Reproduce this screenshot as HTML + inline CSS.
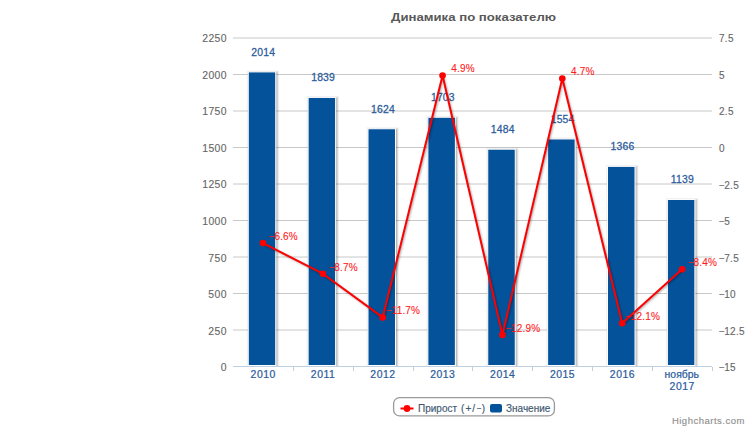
<!DOCTYPE html><html><head><meta charset="utf-8"><style>html,body{margin:0;padding:0;background:#fff;width:750px;height:430px;overflow:hidden;position:relative}</style></head><body><svg width="750" height="430" viewBox="0 0 750 430" style="position:absolute;left:0;top:0">
<defs><clipPath id="pc"><rect x="233" y="0" width="484" height="366"/></clipPath></defs>
<rect width="750" height="430" fill="#fff"/>
<text x="391" y="20.7" font-family="Liberation Sans, sans-serif" font-size="11.5" font-weight="bold" fill="#585858" textLength="165" lengthAdjust="spacingAndGlyphs">Динамика по показателю</text>
<line x1="233" x2="712" y1="38.00" y2="38.00" stroke="#c8c8c8" stroke-width="1"/>
<line x1="233" x2="712" y1="74.50" y2="74.50" stroke="#c8c8c8" stroke-width="1"/>
<line x1="233" x2="712" y1="111.00" y2="111.00" stroke="#c8c8c8" stroke-width="1"/>
<line x1="233" x2="712" y1="147.50" y2="147.50" stroke="#c8c8c8" stroke-width="1"/>
<line x1="233" x2="712" y1="184.00" y2="184.00" stroke="#c8c8c8" stroke-width="1"/>
<line x1="233" x2="712" y1="220.50" y2="220.50" stroke="#c8c8c8" stroke-width="1"/>
<line x1="233" x2="712" y1="257.00" y2="257.00" stroke="#c8c8c8" stroke-width="1"/>
<line x1="233" x2="712" y1="293.50" y2="293.50" stroke="#c8c8c8" stroke-width="1"/>
<line x1="233" x2="712" y1="330.00" y2="330.00" stroke="#c8c8c8" stroke-width="1"/>
<text transform="translate(226.80,42.10) scale(1.040,1)" font-family="Liberation Sans, sans-serif" font-size="10" font-weight="normal" fill="#666666" stroke="#666666" stroke-width="0.12" text-anchor="end" letter-spacing="0.35">2250</text>
<text transform="translate(226.80,78.68) scale(1.040,1)" font-family="Liberation Sans, sans-serif" font-size="10" font-weight="normal" fill="#666666" stroke="#666666" stroke-width="0.12" text-anchor="end" letter-spacing="0.35">2000</text>
<text transform="translate(226.80,115.26) scale(1.040,1)" font-family="Liberation Sans, sans-serif" font-size="10" font-weight="normal" fill="#666666" stroke="#666666" stroke-width="0.12" text-anchor="end" letter-spacing="0.35">1750</text>
<text transform="translate(226.80,151.84) scale(1.040,1)" font-family="Liberation Sans, sans-serif" font-size="10" font-weight="normal" fill="#666666" stroke="#666666" stroke-width="0.12" text-anchor="end" letter-spacing="0.35">1500</text>
<text transform="translate(226.80,188.42) scale(1.040,1)" font-family="Liberation Sans, sans-serif" font-size="10" font-weight="normal" fill="#666666" stroke="#666666" stroke-width="0.12" text-anchor="end" letter-spacing="0.35">1250</text>
<text transform="translate(226.80,225.00) scale(1.040,1)" font-family="Liberation Sans, sans-serif" font-size="10" font-weight="normal" fill="#666666" stroke="#666666" stroke-width="0.12" text-anchor="end" letter-spacing="0.35">1000</text>
<text transform="translate(226.80,261.58) scale(1.040,1)" font-family="Liberation Sans, sans-serif" font-size="10" font-weight="normal" fill="#666666" stroke="#666666" stroke-width="0.12" text-anchor="end" letter-spacing="0.35">750</text>
<text transform="translate(226.80,298.16) scale(1.040,1)" font-family="Liberation Sans, sans-serif" font-size="10" font-weight="normal" fill="#666666" stroke="#666666" stroke-width="0.12" text-anchor="end" letter-spacing="0.35">500</text>
<text transform="translate(226.80,334.74) scale(1.040,1)" font-family="Liberation Sans, sans-serif" font-size="10" font-weight="normal" fill="#666666" stroke="#666666" stroke-width="0.12" text-anchor="end" letter-spacing="0.35">250</text>
<text transform="translate(226.80,371.32) scale(1.040,1)" font-family="Liberation Sans, sans-serif" font-size="10" font-weight="normal" fill="#666666" stroke="#666666" stroke-width="0.12" text-anchor="end" letter-spacing="0.35">0</text>
<text transform="translate(719.00,42.20)" font-family="Liberation Sans, sans-serif" font-size="10" font-weight="normal" fill="#666666" stroke="#666666" stroke-width="0.12" text-anchor="start" letter-spacing="0.3">7.5</text>
<text transform="translate(719.00,78.78)" font-family="Liberation Sans, sans-serif" font-size="10" font-weight="normal" fill="#666666" stroke="#666666" stroke-width="0.12" text-anchor="start" letter-spacing="0.3">5</text>
<text transform="translate(719.00,115.36)" font-family="Liberation Sans, sans-serif" font-size="10" font-weight="normal" fill="#666666" stroke="#666666" stroke-width="0.12" text-anchor="start" letter-spacing="0.3">2.5</text>
<text transform="translate(719.00,151.94)" font-family="Liberation Sans, sans-serif" font-size="10" font-weight="normal" fill="#666666" stroke="#666666" stroke-width="0.12" text-anchor="start" letter-spacing="0.3">0</text>
<text transform="translate(719.00,188.52)" font-family="Liberation Sans, sans-serif" font-size="10" font-weight="normal" fill="#666666" stroke="#666666" stroke-width="0.12" text-anchor="start" letter-spacing="0.3">−<tspan dx="-0.9">2.5</tspan></text>
<text transform="translate(719.00,225.10)" font-family="Liberation Sans, sans-serif" font-size="10" font-weight="normal" fill="#666666" stroke="#666666" stroke-width="0.12" text-anchor="start" letter-spacing="0.3">−<tspan dx="-0.9">5</tspan></text>
<text transform="translate(719.00,261.68)" font-family="Liberation Sans, sans-serif" font-size="10" font-weight="normal" fill="#666666" stroke="#666666" stroke-width="0.12" text-anchor="start" letter-spacing="0.3">−<tspan dx="-0.9">7.5</tspan></text>
<text transform="translate(719.00,298.26)" font-family="Liberation Sans, sans-serif" font-size="10" font-weight="normal" fill="#666666" stroke="#666666" stroke-width="0.12" text-anchor="start" letter-spacing="0.3">−<tspan dx="-0.9">10</tspan></text>
<text transform="translate(719.00,334.84)" font-family="Liberation Sans, sans-serif" font-size="10" font-weight="normal" fill="#666666" stroke="#666666" stroke-width="0.12" text-anchor="start" letter-spacing="0.3">−<tspan dx="-0.9">12.5</tspan></text>
<text transform="translate(719.00,371.42)" font-family="Liberation Sans, sans-serif" font-size="10" font-weight="normal" fill="#666666" stroke="#666666" stroke-width="0.12" text-anchor="start" letter-spacing="0.3">−<tspan dx="-0.9">15</tspan></text>
<g clip-path="url(#pc)">
<rect x="248.25" y="71.90" width="27.5" height="293.60" fill="none" stroke="#000" stroke-opacity="0.05" stroke-width="5" transform="translate(1,1)"/>
<rect x="248.25" y="71.90" width="27.5" height="293.60" fill="none" stroke="#000" stroke-opacity="0.10" stroke-width="3" transform="translate(1,1)"/>
<rect x="248.25" y="71.90" width="27.5" height="293.60" fill="none" stroke="#000" stroke-opacity="0.15" stroke-width="1" transform="translate(1,1)"/>
<rect x="248.25" y="71.90" width="27.5" height="293.60" fill="#04529a" stroke="#fff" stroke-width="1"/>
<rect x="308.12" y="97.41" width="27.5" height="268.09" fill="none" stroke="#000" stroke-opacity="0.05" stroke-width="5" transform="translate(1,1)"/>
<rect x="308.12" y="97.41" width="27.5" height="268.09" fill="none" stroke="#000" stroke-opacity="0.10" stroke-width="3" transform="translate(1,1)"/>
<rect x="308.12" y="97.41" width="27.5" height="268.09" fill="none" stroke="#000" stroke-opacity="0.15" stroke-width="1" transform="translate(1,1)"/>
<rect x="308.12" y="97.41" width="27.5" height="268.09" fill="#04529a" stroke="#fff" stroke-width="1"/>
<rect x="368.00" y="128.76" width="27.5" height="236.74" fill="none" stroke="#000" stroke-opacity="0.05" stroke-width="5" transform="translate(1,1)"/>
<rect x="368.00" y="128.76" width="27.5" height="236.74" fill="none" stroke="#000" stroke-opacity="0.10" stroke-width="3" transform="translate(1,1)"/>
<rect x="368.00" y="128.76" width="27.5" height="236.74" fill="none" stroke="#000" stroke-opacity="0.15" stroke-width="1" transform="translate(1,1)"/>
<rect x="368.00" y="128.76" width="27.5" height="236.74" fill="#04529a" stroke="#fff" stroke-width="1"/>
<rect x="427.88" y="117.24" width="27.5" height="248.26" fill="none" stroke="#000" stroke-opacity="0.05" stroke-width="5" transform="translate(1,1)"/>
<rect x="427.88" y="117.24" width="27.5" height="248.26" fill="none" stroke="#000" stroke-opacity="0.10" stroke-width="3" transform="translate(1,1)"/>
<rect x="427.88" y="117.24" width="27.5" height="248.26" fill="none" stroke="#000" stroke-opacity="0.15" stroke-width="1" transform="translate(1,1)"/>
<rect x="427.88" y="117.24" width="27.5" height="248.26" fill="#04529a" stroke="#fff" stroke-width="1"/>
<rect x="487.75" y="149.17" width="27.5" height="216.33" fill="none" stroke="#000" stroke-opacity="0.05" stroke-width="5" transform="translate(1,1)"/>
<rect x="487.75" y="149.17" width="27.5" height="216.33" fill="none" stroke="#000" stroke-opacity="0.10" stroke-width="3" transform="translate(1,1)"/>
<rect x="487.75" y="149.17" width="27.5" height="216.33" fill="none" stroke="#000" stroke-opacity="0.15" stroke-width="1" transform="translate(1,1)"/>
<rect x="487.75" y="149.17" width="27.5" height="216.33" fill="#04529a" stroke="#fff" stroke-width="1"/>
<rect x="547.62" y="138.96" width="27.5" height="226.54" fill="none" stroke="#000" stroke-opacity="0.05" stroke-width="5" transform="translate(1,1)"/>
<rect x="547.62" y="138.96" width="27.5" height="226.54" fill="none" stroke="#000" stroke-opacity="0.10" stroke-width="3" transform="translate(1,1)"/>
<rect x="547.62" y="138.96" width="27.5" height="226.54" fill="none" stroke="#000" stroke-opacity="0.15" stroke-width="1" transform="translate(1,1)"/>
<rect x="547.62" y="138.96" width="27.5" height="226.54" fill="#04529a" stroke="#fff" stroke-width="1"/>
<rect x="607.50" y="166.37" width="27.5" height="199.13" fill="none" stroke="#000" stroke-opacity="0.05" stroke-width="5" transform="translate(1,1)"/>
<rect x="607.50" y="166.37" width="27.5" height="199.13" fill="none" stroke="#000" stroke-opacity="0.10" stroke-width="3" transform="translate(1,1)"/>
<rect x="607.50" y="166.37" width="27.5" height="199.13" fill="none" stroke="#000" stroke-opacity="0.15" stroke-width="1" transform="translate(1,1)"/>
<rect x="607.50" y="166.37" width="27.5" height="199.13" fill="#04529a" stroke="#fff" stroke-width="1"/>
<rect x="667.38" y="199.46" width="27.5" height="166.04" fill="none" stroke="#000" stroke-opacity="0.05" stroke-width="5" transform="translate(1,1)"/>
<rect x="667.38" y="199.46" width="27.5" height="166.04" fill="none" stroke="#000" stroke-opacity="0.10" stroke-width="3" transform="translate(1,1)"/>
<rect x="667.38" y="199.46" width="27.5" height="166.04" fill="none" stroke="#000" stroke-opacity="0.15" stroke-width="1" transform="translate(1,1)"/>
<rect x="667.38" y="199.46" width="27.5" height="166.04" fill="#04529a" stroke="#fff" stroke-width="1"/>
</g>
<line x1="233" x2="712" y1="366.5" y2="366.5" stroke="#c0d0e0" stroke-width="1"/>
<line x1="293.50" x2="293.50" y1="367" y2="371" stroke="#c0d0e0" stroke-width="1"/>
<line x1="353.50" x2="353.50" y1="367" y2="371" stroke="#c0d0e0" stroke-width="1"/>
<line x1="413.50" x2="413.50" y1="367" y2="371" stroke="#c0d0e0" stroke-width="1"/>
<line x1="472.50" x2="472.50" y1="367" y2="371" stroke="#c0d0e0" stroke-width="1"/>
<line x1="532.50" x2="532.50" y1="367" y2="371" stroke="#c0d0e0" stroke-width="1"/>
<line x1="592.50" x2="592.50" y1="367" y2="371" stroke="#c0d0e0" stroke-width="1"/>
<line x1="652.50" x2="652.50" y1="367" y2="371" stroke="#c0d0e0" stroke-width="1"/>
<line x1="712.50" x2="712.50" y1="367" y2="371" stroke="#c0d0e0" stroke-width="1"/>
<text transform="translate(263.19,378.20) scale(1.040,1)" font-family="Liberation Sans, sans-serif" font-size="10" font-weight="normal" fill="#2b5b9b" stroke="#2b5b9b" stroke-width="0.22" text-anchor="middle" letter-spacing="0.5">2010</text>
<text transform="translate(323.06,378.20) scale(1.040,1)" font-family="Liberation Sans, sans-serif" font-size="10" font-weight="normal" fill="#2b5b9b" stroke="#2b5b9b" stroke-width="0.22" text-anchor="middle" letter-spacing="0.5">2011</text>
<text transform="translate(382.94,378.20) scale(1.040,1)" font-family="Liberation Sans, sans-serif" font-size="10" font-weight="normal" fill="#2b5b9b" stroke="#2b5b9b" stroke-width="0.22" text-anchor="middle" letter-spacing="0.5">2012</text>
<text transform="translate(442.81,378.20) scale(1.040,1)" font-family="Liberation Sans, sans-serif" font-size="10" font-weight="normal" fill="#2b5b9b" stroke="#2b5b9b" stroke-width="0.22" text-anchor="middle" letter-spacing="0.5">2013</text>
<text transform="translate(502.69,378.20) scale(1.040,1)" font-family="Liberation Sans, sans-serif" font-size="10" font-weight="normal" fill="#2b5b9b" stroke="#2b5b9b" stroke-width="0.22" text-anchor="middle" letter-spacing="0.5">2014</text>
<text transform="translate(562.56,378.20) scale(1.040,1)" font-family="Liberation Sans, sans-serif" font-size="10" font-weight="normal" fill="#2b5b9b" stroke="#2b5b9b" stroke-width="0.22" text-anchor="middle" letter-spacing="0.5">2015</text>
<text transform="translate(622.44,378.20) scale(1.040,1)" font-family="Liberation Sans, sans-serif" font-size="10" font-weight="normal" fill="#2b5b9b" stroke="#2b5b9b" stroke-width="0.22" text-anchor="middle" letter-spacing="0.5">2016</text>
<text transform="translate(681.76,378.20) scale(1.040,1)" font-family="Liberation Sans, sans-serif" font-size="10" font-weight="normal" fill="#2b5b9b" stroke="#2b5b9b" stroke-width="0.22" text-anchor="middle">ноябрь</text>
<text transform="translate(682.21,389.50) scale(1.040,1)" font-family="Liberation Sans, sans-serif" font-size="10" font-weight="normal" fill="#2b5b9b" stroke="#2b5b9b" stroke-width="0.22" text-anchor="middle" letter-spacing="0.5">2017</text>
<text transform="translate(263.24,55.90) scale(1.040,1)" font-family="Liberation Sans, sans-serif" font-size="10" font-weight="normal" fill="#2b5b9b" stroke="#2b5b9b" stroke-width="0.25" text-anchor="middle" letter-spacing="0.2">2014</text>
<text transform="translate(323.11,81.41) scale(1.040,1)" font-family="Liberation Sans, sans-serif" font-size="10" font-weight="normal" fill="#2b5b9b" stroke="#2b5b9b" stroke-width="0.25" text-anchor="middle" letter-spacing="0.2">1839</text>
<text transform="translate(382.99,112.76) scale(1.040,1)" font-family="Liberation Sans, sans-serif" font-size="10" font-weight="normal" fill="#2b5b9b" stroke="#2b5b9b" stroke-width="0.25" text-anchor="middle" letter-spacing="0.2">1624</text>
<text transform="translate(442.86,101.24) scale(1.040,1)" font-family="Liberation Sans, sans-serif" font-size="10" font-weight="normal" fill="#2b5b9b" stroke="#2b5b9b" stroke-width="0.25" text-anchor="middle" letter-spacing="0.2">1703</text>
<text transform="translate(502.74,133.17) scale(1.040,1)" font-family="Liberation Sans, sans-serif" font-size="10" font-weight="normal" fill="#2b5b9b" stroke="#2b5b9b" stroke-width="0.25" text-anchor="middle" letter-spacing="0.2">1484</text>
<text transform="translate(562.61,122.96) scale(1.040,1)" font-family="Liberation Sans, sans-serif" font-size="10" font-weight="normal" fill="#2b5b9b" stroke="#2b5b9b" stroke-width="0.25" text-anchor="middle" letter-spacing="0.2">1554</text>
<text transform="translate(622.49,150.37) scale(1.040,1)" font-family="Liberation Sans, sans-serif" font-size="10" font-weight="normal" fill="#2b5b9b" stroke="#2b5b9b" stroke-width="0.25" text-anchor="middle" letter-spacing="0.2">1366</text>
<text transform="translate(682.36,183.46) scale(1.040,1)" font-family="Liberation Sans, sans-serif" font-size="10" font-weight="normal" fill="#2b5b9b" stroke="#2b5b9b" stroke-width="0.25" text-anchor="middle" letter-spacing="0.2">1139</text>
<polyline points="262.94,243.12 322.81,273.72 382.69,317.42 442.56,75.58 502.44,334.91 562.31,78.49 622.19,323.25 682.06,269.35" fill="none" stroke="#000" stroke-opacity="0.05" stroke-width="5" stroke-linejoin="round" transform="translate(1,1)"/>
<polyline points="262.94,243.12 322.81,273.72 382.69,317.42 442.56,75.58 502.44,334.91 562.31,78.49 622.19,323.25 682.06,269.35" fill="none" stroke="#000" stroke-opacity="0.10" stroke-width="3" stroke-linejoin="round" transform="translate(1,1)"/>
<polyline points="262.94,243.12 322.81,273.72 382.69,317.42 442.56,75.58 502.44,334.91 562.31,78.49 622.19,323.25 682.06,269.35" fill="none" stroke="#000" stroke-opacity="0.15" stroke-width="1" stroke-linejoin="round" transform="translate(1,1)"/>
<polyline points="262.94,243.12 322.81,273.72 382.69,317.42 442.56,75.58 502.44,334.91 562.31,78.49 622.19,323.25 682.06,269.35" fill="none" stroke="#ff0000" stroke-width="2" stroke-linejoin="round"/>
<circle cx="262.94" cy="243.12" r="3.3" fill="#ff0000"/>
<circle cx="322.81" cy="273.72" r="3.3" fill="#ff0000"/>
<circle cx="382.69" cy="317.42" r="3.3" fill="#ff0000"/>
<circle cx="442.56" cy="75.58" r="3.3" fill="#ff0000"/>
<circle cx="502.44" cy="334.91" r="3.3" fill="#ff0000"/>
<circle cx="562.31" cy="78.49" r="3.3" fill="#ff0000"/>
<circle cx="622.19" cy="323.25" r="3.3" fill="#ff0000"/>
<circle cx="682.06" cy="269.35" r="3.3" fill="#ff0000"/>
<text transform="translate(283.44,239.92)" font-family="Liberation Sans, sans-serif" font-size="10" font-weight="normal" fill="#ff1a1a" stroke="#ff1a1a" stroke-width="0.1" text-anchor="middle" letter-spacing="0.15">−<tspan dx="-0.6">6.6%</tspan></text>
<text transform="translate(343.31,270.52)" font-family="Liberation Sans, sans-serif" font-size="10" font-weight="normal" fill="#ff1a1a" stroke="#ff1a1a" stroke-width="0.1" text-anchor="middle" letter-spacing="0.15">−<tspan dx="-0.6">8.7%</tspan></text>
<text transform="translate(403.19,314.22)" font-family="Liberation Sans, sans-serif" font-size="10" font-weight="normal" fill="#ff1a1a" stroke="#ff1a1a" stroke-width="0.1" text-anchor="middle" letter-spacing="0.15">−<tspan dx="-0.6">11.7%</tspan></text>
<text transform="translate(463.06,72.38)" font-family="Liberation Sans, sans-serif" font-size="10" font-weight="normal" fill="#ff1a1a" stroke="#ff1a1a" stroke-width="0.1" text-anchor="middle" letter-spacing="0.15"><tspan>4.9%</tspan></text>
<text transform="translate(522.94,331.71)" font-family="Liberation Sans, sans-serif" font-size="10" font-weight="normal" fill="#ff1a1a" stroke="#ff1a1a" stroke-width="0.1" text-anchor="middle" letter-spacing="0.15">−<tspan dx="-0.6">12.9%</tspan></text>
<text transform="translate(582.81,75.29)" font-family="Liberation Sans, sans-serif" font-size="10" font-weight="normal" fill="#ff1a1a" stroke="#ff1a1a" stroke-width="0.1" text-anchor="middle" letter-spacing="0.15"><tspan>4.7%</tspan></text>
<text transform="translate(642.69,320.05)" font-family="Liberation Sans, sans-serif" font-size="10" font-weight="normal" fill="#ff1a1a" stroke="#ff1a1a" stroke-width="0.1" text-anchor="middle" letter-spacing="0.15">−<tspan dx="-0.6">12.1%</tspan></text>
<text transform="translate(702.56,266.15)" font-family="Liberation Sans, sans-serif" font-size="10" font-weight="normal" fill="#ff1a1a" stroke="#ff1a1a" stroke-width="0.1" text-anchor="middle" letter-spacing="0.15">−<tspan dx="-0.6">8.4%</tspan></text>
<rect x="393.6" y="397.6" width="160.8" height="18.3" rx="6" fill="#fff" stroke="#9a9a9a" stroke-width="1.3"/>
<line x1="400.5" x2="413.5" y1="408.5" y2="408.5" stroke="#ff0000" stroke-width="2"/>
<circle cx="407" cy="408.5" r="3.4" fill="#ff0000"/>
<text transform="translate(418.00,411.60)" font-family="Liberation Sans, sans-serif" font-size="10" font-weight="normal" fill="#3e576f" stroke="#3e576f" stroke-width="0.15" text-anchor="start">Прирост</text>
<text transform="translate(462.60,411.60)" font-family="Liberation Sans, sans-serif" font-size="10" font-weight="normal" fill="#3e576f" stroke="#3e576f" stroke-width="0.15" text-anchor="middle">(</text>
<text transform="translate(468.40,411.60)" font-family="Liberation Sans, sans-serif" font-size="10" font-weight="normal" fill="#3e576f" stroke="#3e576f" stroke-width="0.15" text-anchor="middle">+</text>
<text transform="translate(473.60,411.60)" font-family="Liberation Sans, sans-serif" font-size="10" font-weight="normal" fill="#3e576f" stroke="#3e576f" stroke-width="0.15" text-anchor="middle">/</text>
<text transform="translate(479.20,411.60) scale(0.850,1)" font-family="Liberation Sans, sans-serif" font-size="10" font-weight="normal" fill="#3e576f" stroke="#3e576f" stroke-width="0.15" text-anchor="middle">−</text>
<text transform="translate(483.30,411.60)" font-family="Liberation Sans, sans-serif" font-size="10" font-weight="normal" fill="#3e576f" stroke="#3e576f" stroke-width="0.15" text-anchor="middle">)</text>
<rect x="490" y="404" width="12" height="8.5" rx="2" fill="#04529a"/>
<text transform="translate(506.00,411.80)" font-family="Liberation Sans, sans-serif" font-size="10" font-weight="normal" fill="#3e576f" stroke="#3e576f" stroke-width="0.15" text-anchor="start">Значение</text>
<text transform="translate(744.90,424.30)" font-family="Liberation Sans, sans-serif" font-size="9.5" font-weight="normal" fill="#909090" stroke="#909090" stroke-width="0.15" text-anchor="end" letter-spacing="0.5">Highcharts.com</text>
</svg></body></html>
